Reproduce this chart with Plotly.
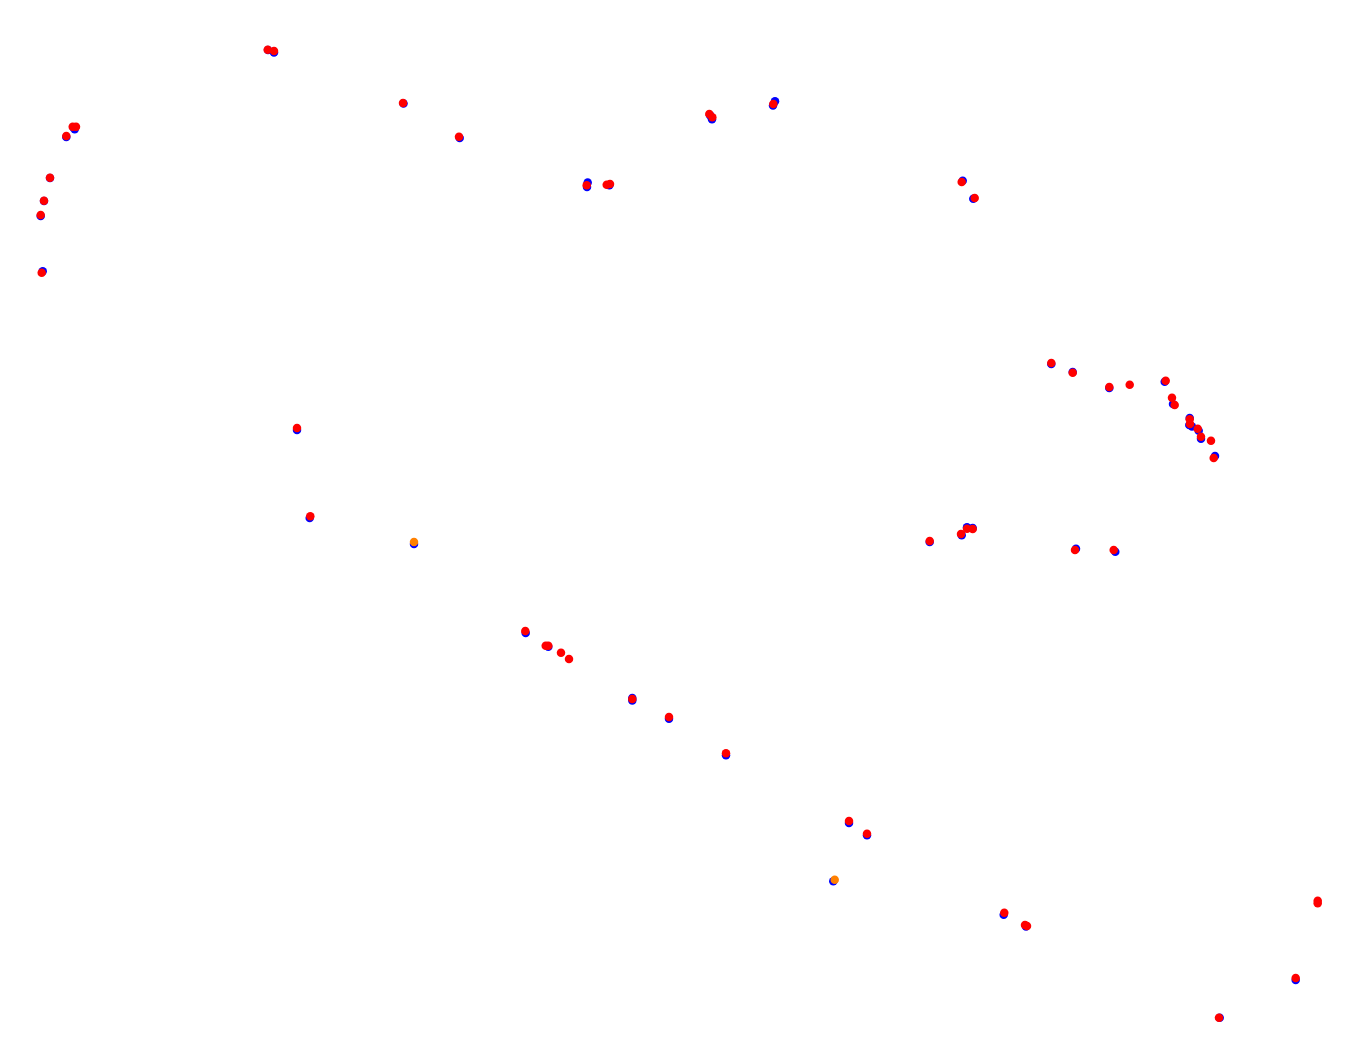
import plotly.graph_objects as go

# Point positions (x to the right, y downward)
blue_x = [268, 274, 73.3, 74.7, 66.3, 50, 44, 40.7, 42.7,
          403.5, 459.7, 587.7, 587, 609.3, 710, 712, 775, 773,
          962.7, 973.3, 1051.3, 1072.7, 1109.3, 1164.7, 1173, 1189.7, 1189.3, 1192, 1198.7, 1201, 1215,
          297, 309.7, 414,
          525.7, 548.3, 632.3, 632.3, 669, 726,
          849, 867, 833.3, 1003.7, 1026,
          929.7, 961.7, 967, 972.7, 1076, 1115.3,
          1295.7, 1219.7]
blue_y = [50, 52.5, 127.3, 129.3, 137, 178, 201, 216, 271.3,
          103.5, 138, 182.5, 187, 185.3, 115.3, 119.3, 101.3, 105.5,
          180.7, 198.7, 364, 372, 388, 381.7, 404, 418, 425, 426.5, 430.7, 438.7, 456,
          430, 518, 544,
          633, 646.7, 698, 700.5, 718.7, 755.3,
          823, 835.3, 881.3, 914.7, 926.5,
          542, 535.3, 527.3, 528, 548.7, 551.7,
          980, 1017.7]

red_x = [267.7, 274, 72.7, 76, 66.3, 50, 44, 40.7, 41.7,
         403, 459, 586.7, 606.7, 610, 709.3, 712.3, 773.3,
         961.7, 974.7, 1051.3, 1072.7, 1109.3, 1129.7, 1165.7, 1172, 1174.7, 1189.7, 1190, 1197.7, 1201, 1211, 1213.7,
         297, 310.3,
         525.3, 545.7, 548.3, 561, 569, 632.3, 669, 726,
         849, 867, 1004.3, 1025, 1027,
         929.7, 961, 967, 972.7, 1075, 1113.7,
         1317.7, 1317.7, 1295.7, 1219]
red_y = [49.7, 51, 126.7, 126.7, 136, 177.7, 200.7, 215, 272.7,
         103, 136.7, 185.3, 184.7, 184, 114, 117.3, 104,
         182, 198, 363, 372.7, 387, 384.7, 380.7, 397.7, 405, 419.3, 424, 428.7, 436.7, 440.7, 458,
         428, 516.3,
         631, 645.7, 645.7, 652.7, 659, 699, 717, 753.3,
         821, 833.7, 912.7, 925, 926,
         541, 534, 528.7, 529, 550, 550,
         900.7, 903.3, 978, 1017.7]

orange_x = [414, 834.7]
orange_y = [542, 879.7]

fig = go.Figure()
fig.add_trace(go.Scatter(x=blue_x, y=blue_y, mode="markers",
                         marker=dict(color="blue", size=8.5), showlegend=False))
fig.add_trace(go.Scatter(x=red_x, y=red_y, mode="markers",
                         marker=dict(color="red", size=8.5), showlegend=False))
fig.add_trace(go.Scatter(x=orange_x, y=orange_y, mode="markers",
                         marker=dict(color="#ff8000", size=8.5), showlegend=False))

fig.update_layout(
    width=1359, height=1064,
    margin=dict(l=0, r=0, t=0, b=0),
    plot_bgcolor="white", paper_bgcolor="white",
    xaxis=dict(range=[0, 1359], visible=False),
    yaxis=dict(range=[1064, 0], visible=False),
)

fig.write_html("out.html", config={"displayModeBar": False},
               post_script="document.body.style.margin='0';")
